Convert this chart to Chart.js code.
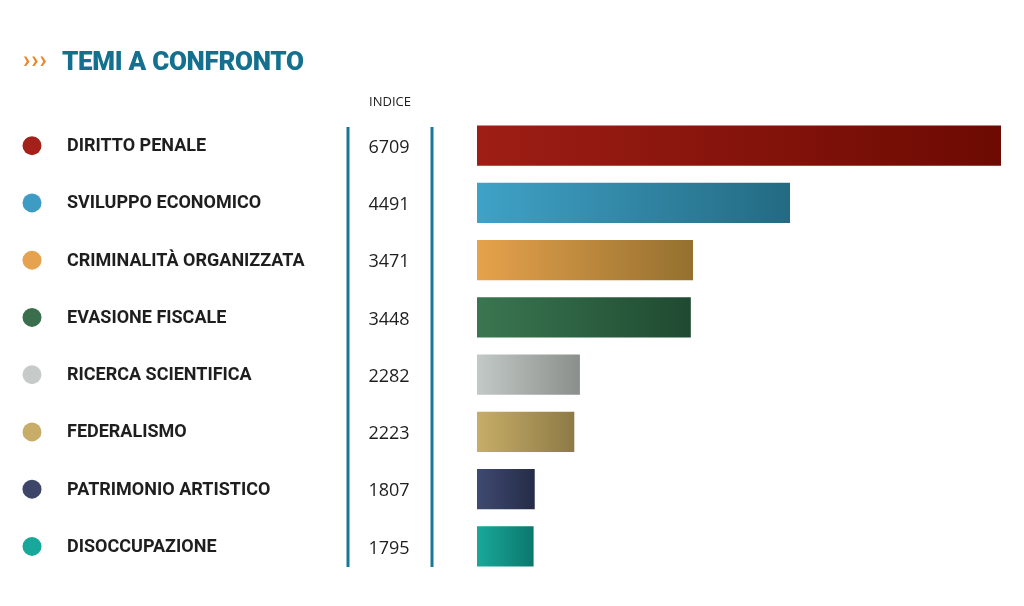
<!DOCTYPE html>
<html>
<head>
<meta charset="utf-8">
<script src="https://cdn.jsdelivr.net/npm/chart.js@4/dist/chart.umd.min.js"></script>
<style>
  html, body { margin: 0; padding: 0; background: #fff; }
  #wrap { position: relative; width: 1024px; height: 606px; }
  #title { position: absolute; left: 62px; top: 46px; font-family: "Roboto", sans-serif; font-weight: 900; font-size: 26px; color: #13708e; letter-spacing: -0.3px; white-space: nowrap; }
  #title span { position: absolute; left: -39px; top: 0px; color: #e8862a; font-size: 24px; font-weight: bold; letter-spacing: 1px; }
</style>
</head>
<body>
<div id="wrap">
  <div id="title"><span>›››</span>TEMI A CONFRONTO</div>
  <canvas id="chart" width="1024" height="606"></canvas>
</div>
<script>
// dati
const temi = ['DIRITTO PENALE', 'SVILUPPO ECONOMICO', 'CRIMINALITÀ ORGANIZZATA', 'EVASIONE FISCALE',
              'RICERCA SCIENTIFICA', 'FEDERALISMO', 'PATRIMONIO ARTISTICO', 'DISOCCUPAZIONE'];
const indice = [6709, 4491, 3471, 3448, 2282, 2223, 1807, 1795];
const coloriPunto = ['#a3211a', '#3e9cc4', '#e6a24e', '#3a6e4c', '#c6cbc9', '#c8ad68', '#3d4669', '#17a89b'];
const coloriInizio = ['#9e1e15', '#3fa2c7', '#e6a24c', '#3a7650', '#c3c9c6', '#c7ad68', '#3e4a70', '#19a89a'];
const coloriFine = ['#6c0a02', '#236a82', '#94702f', '#1f4a31', '#8a8f8c', '#8d7a45', '#252c48', '#0b786d'];

const ctx = document.getElementById('chart').getContext('2d');

const gradiente = (context) => {
    const chart = context.chart;
    const i = context.dataIndex;
    if (!chart.chartArea || i === undefined) return coloriInizio[i] || '#999';
    const xs = chart.scales.x;
    const x0 = xs.getPixelForValue(xs.min);
    const x1 = xs.getPixelForValue(indice[i]);
    const g = chart.ctx.createLinearGradient(x0, 0, x1, 0);
    g.addColorStop(0, coloriInizio[i]);
    g.addColorStop(1, coloriFine[i]);
    return g;
};

// etichette, pallini, valori e righe verticali
const tabella = {
    id: 'tabella',
    afterDraw(chart) {
        const c = chart.ctx;
        const ys = chart.scales.y;
        c.save();
        c.fillStyle = '#222';
        c.font = '13px "Open Sans", sans-serif';
        c.textAlign = 'center';
        c.textBaseline = 'middle';
        c.fillText('INDICE', 390, 102);

        c.strokeStyle = '#17789a';
        c.lineWidth = 3;
        [348, 432].forEach(x => {
            c.beginPath();
            c.moveTo(x, 127);
            c.lineTo(x, 567);
            c.stroke();
        });

        temi.forEach((t, i) => {
            const y = ys.getPixelForValue(i);
            c.fillStyle = coloriPunto[i];
            c.beginPath();
            c.arc(32, y, 9.5, 0, Math.PI * 2);
            c.fill();

            c.fillStyle = '#1e1e1e';
            c.textAlign = 'left';
            c.font = 'bold 18px "Roboto", sans-serif';
            c.fillText(t, 67, y + 1);

            c.textAlign = 'center';
            c.font = '18px "Open Sans", sans-serif';
            c.fillText(String(indice[i]), 389, y + 2);
        });
        c.restore();
    }
};

new Chart(ctx, {
    type: 'bar',
    data: {
        labels: temi,
        datasets: [{
            data: indice,
            backgroundColor: gradiente,
            borderWidth: 0,
            barPercentage: 0.7,
            categoryPercentage: 1.0
        }]
    },
    options: {
        indexAxis: 'y',
        responsive: false,
        animation: false,
        layout: { padding: { left: 477, right: 23, top: 117, bottom: 31 } },
        scales: {
            x: { display: false, min: 1200, max: 6709 },
            y: { display: false }
        },
        plugins: {
            legend: { display: false },
            tooltip: { enabled: false }
        }
    },
    plugins: [tabella]
});
</script>
</body>
</html>
